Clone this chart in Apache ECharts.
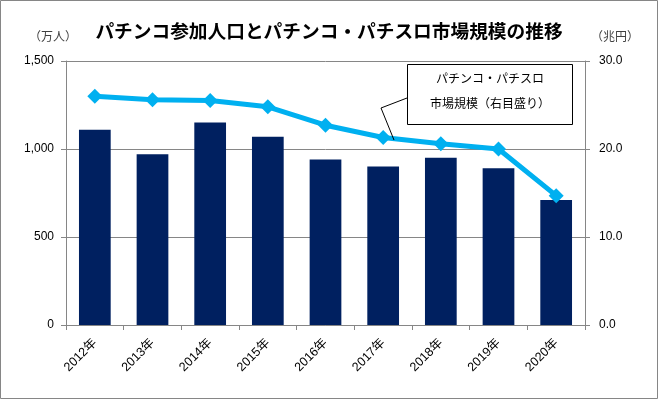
<!DOCTYPE html>
<html lang="ja">
<head>
    <meta charset="UTF-8">
    <title>パチンコ参加人口</title>
    <script src="https://cdn.jsdelivr.net/npm/echarts@6/dist/echarts.min.js"></script>
    <style>
        body { margin: 0; }
        #chart { width: 658px; height: 399px; }
    </style>
</head>
<body>
<div id="chart"></div>
<script>
    // 参加人口（万人）と市場規模（兆円）
    var years = ['2012年', '2013年', '2014年', '2015年', '2016年', '2017年', '2018年', '2019年', '2020年'];
    var players = [1110, 970, 1150, 1070, 940, 900, 950, 890, 710];
    var marketSize = [26.0, 25.6, 25.5, 24.8, 22.7, 21.3, 20.6, 20.0, 14.7];

    var jp = '"Noto Sans CJK JP", sans-serif';
    var num = '"Liberation Sans", "Noto Sans CJK JP", sans-serif';
    var gray = '#868686';

    echarts.init(document.getElementById('chart')).setOption({
        animation: false,
        title: [
            {
                text: 'パチンコ参加人口とパチンコ・パチスロ市場規模の推移',
                left: 'center',
                top: 17,
                textStyle: { fontFamily: jp, fontSize: 18.7, fontWeight: 'bold', color: '#000' }
            },
            {
                text: '（万人）',
                left: 24,
                top: 25,
                textStyle: { fontFamily: jp, fontSize: 12, fontWeight: 'normal', color: '#404040' }
            },
            {
                text: '（兆円）',
                left: 586,
                top: 25,
                textStyle: { fontFamily: jp, fontSize: 12, fontWeight: 'normal', color: '#404040' }
            }
        ],
        grid: {
            left: 66,
            right: 73,
            top: 61,
            bottom: 74
        },
        xAxis: {
            type: 'category',
            data: years,
            axisLine: { lineStyle: { color: gray } },
            axisTick: { show: true, interval: 0, length: 5, lineStyle: { color: gray } },
            axisLabel: {
                rotate: 45,
                interval: 0,
                margin: 16,
                fontFamily: num,
                fontSize: 12.5,
                color: '#000'
            }
        },
        yAxis: [
            {
                type: 'value',
                min: 0,
                max: 1500,
                interval: 500,
                axisLine: { show: true, lineStyle: { color: gray } },
                axisTick: { show: true, length: 5, lineStyle: { color: gray } },
                splitLine: { lineStyle: { color: gray, width: 1 } },
                axisLabel: {
                    margin: 12,
                    fontFamily: num,
                    fontSize: 12,
                    color: '#000',
                    formatter: function (v) {
                        return v.toLocaleString('en-US');
                    }
                }
            },
            {
                type: 'value',
                min: 0,
                max: 30,
                interval: 10,
                axisLine: { show: true, lineStyle: { color: gray } },
                axisTick: { show: true, length: 5, lineStyle: { color: gray } },
                splitLine: { show: false },
                axisLabel: {
                    margin: 14,
                    fontFamily: num,
                    fontSize: 12,
                    color: '#000',
                    formatter: function (v) {
                        return v.toFixed(1);
                    }
                }
            }
        ],
        series: [
            {
                name: 'パチンコ参加人口',
                type: 'bar',
                yAxisIndex: 0,
                barWidth: '55%',
                itemStyle: { color: '#002060' },
                data: players
            },
            {
                name: 'パチンコ・パチスロ市場規模',
                type: 'line',
                yAxisIndex: 1,
                symbol: 'diamond',
                symbolSize: 15,
                showAllSymbol: true,
                lineStyle: { color: '#00B0F0', width: 5 },
                itemStyle: { color: '#00B0F0' },
                data: marketSize
            }
        ],
        graphic: [
            {
                type: 'rect',
                shape: { x: 0.5, y: 0.5, width: 657, height: 398 },
                style: { fill: 'none', stroke: gray, lineWidth: 1 },
                silent: true
            },
            {
                type: 'polyline',
                shape: { points: [[407, 98], [381, 108], [394, 140]] },
                style: { fill: 'none', stroke: '#000', lineWidth: 1 },
                z: 10
            },
            {
                type: 'rect',
                shape: { x: 407.5, y: 64.5, width: 165, height: 60 },
                style: { fill: '#fff', stroke: '#000', lineWidth: 1 },
                z: 10
            },
            {
                type: 'text',
                x: 490,
                y: 78,
                style: {
                    text: 'パチンコ・パチスロ',
                    font: '12px ' + jp,
                    fill: '#000',
                    align: 'center',
                    verticalAlign: 'middle'
                },
                z: 11
            },
            {
                type: 'text',
                x: 490,
                y: 103,
                style: {
                    text: '市場規模（右目盛り）',
                    font: '12px ' + jp,
                    fill: '#000',
                    align: 'center',
                    verticalAlign: 'middle'
                },
                z: 11
            }
        ]
    });
</script>
</body>
</html>
